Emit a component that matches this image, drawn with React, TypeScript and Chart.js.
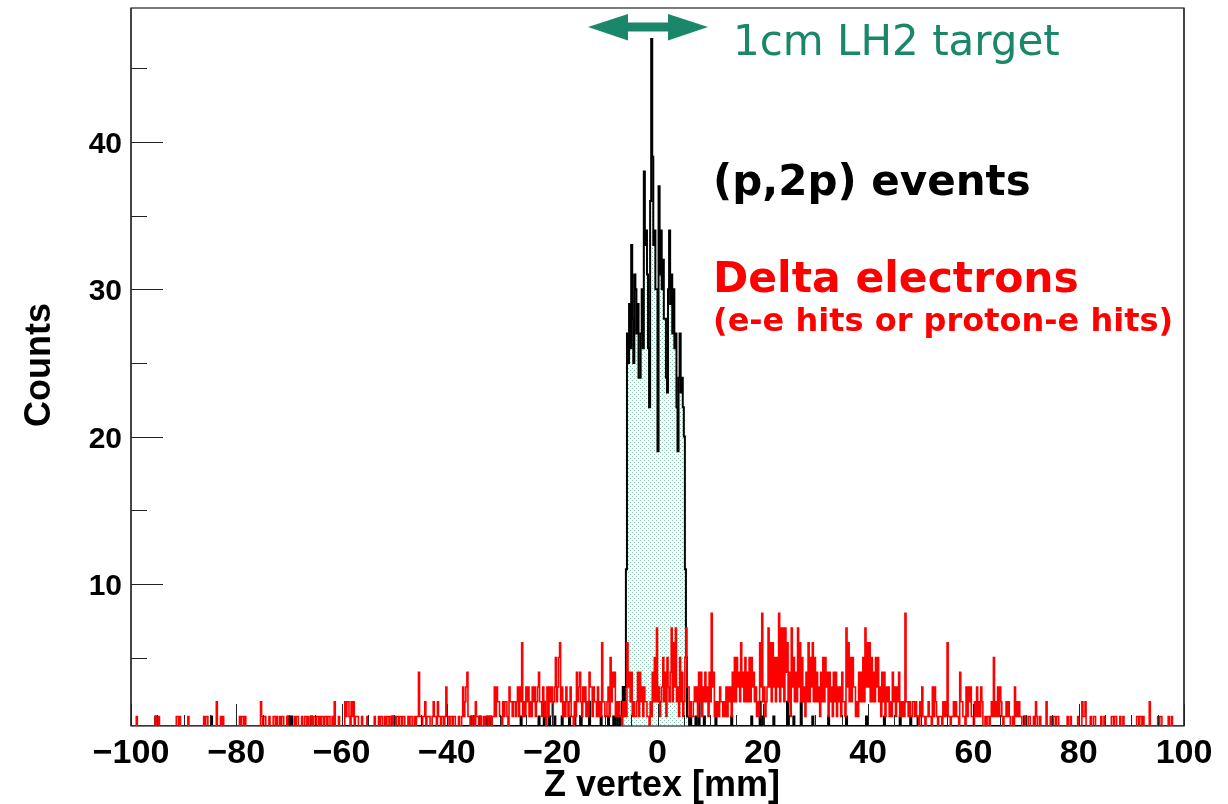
import { useEffect, useRef } from "react";
import { Chart, registerables } from "chart.js";

Chart.register(...registerables);

// ---- axis ranges and binning ----
const X_MIN = -100;
const X_MAX = 100;
const BIN_WIDTH = 0.2; // mm
const Y_MIN = 0.35;
const Y_MAX = 49.1;

const xTickLabels = [-100, -80, -60, -40, -20, 0, 20, 40, 60, 80, 100];
const yTickLabels = [10, 20, 30, 40];

// ---- delta-electron vertices: counts per 0.2 mm bin, one block per 20 mm ----
const deltaM100toM80 = [
  0,0,0,0,0,0,1,0,0,0, 0,0,0,0,0,0,0,0,0,0, 0,0,0,0,1,0,0,1,0,0, 0,0,0,0,0,0,0,0,0,0,
  0,0,0,0,1,1,0,1,0,0, 0,0,0,0,0,1,0,0,0,0, 0,0,0,0,0,0,0,0,0,0, 1,0,1,1,0,0,0,0,0,0,
  0,0,2,0,0,0,1,0,1,0, 0,0,0,0,0,0,0,0,0,0,
];
const deltaM80toM60 = [
  0,0,0,0,1,0,1,1,0,1, 0,0,0,0,0,0,0,0,0,0, 0,0,0,0,2,1,0,1,1,0, 0,0,1,0,0,0,1,1,0,1,
  0,0,1,0,1,1,0,0,0,1, 0,0,0,0,0,0,1,0,1,1, 0,0,0,1,0,0,1,1,0,1, 0,0,1,0,1,1,0,1,1,0,
  1,0,1,1,0,1,1,0,1,1, 0,0,1,0,2,0,0,0,1,0,
];
const deltaM60toM40 = [
  0,0,0,0,2,1,2,2,1,0, 2,1,2,0,1,1,1,0,0,0, 1,0,0,0,0,1,0,0,0,0, 0,0,1,0,0,0,1,0,1,1,
  0,0,1,0,1,1,0,1,1,0, 1,1,0,1,1,0,1,1,0,1, 1,0,0,0,1,0,1,1,0,0, 1,0,1,1,4,1,1,0,1,1,
  2,0,1,1,1,0,0,1,2,1, 1,0,2,1,1,0,1,1,0,1,
];
const deltaM40toM20 = [
  3,1,1,0,1,1,0,1,1,0, 0,0,1,0,0,1,3,1,2,3, 4,1,1,0,0,1,1,0,2,1, 1,0,0,1,0,0,1,0,1,1,
  0,1,1,0,1,1,3,1,3,2, 2,1,1,0,2,1,2,2,1,0, 3,2,2,1,2,2,1,2,3,1, 3,2,6,1,2,1,3,2,3,1,
  2,1,3,2,3,1,2,3,4,2, 2,1,3,2,1,0,3,1,3,2,
];
const deltaM20to0 = [
  3,1,2,3,5,2,3,5,6,2, 3,1,2,1,3,2,1,2,3,1, 1,0,2,1,4,2,3,4,2,1, 3,2,3,1,2,1,4,3,3,1,
  3,2,2,1,3,1,2,1,6,2, 2,1,1,2,3,1,5,2,4,3, 4,1,2,1,2,1,1,0,2,1, 2,1,6,3,4,2,4,1,2,1,
  1,2,4,1,4,2,3,1,3,2, 2,1,1,0,2,1,4,2,5,2,
];
const delta0to20 = [
  7,2,3,1,2,3,5,2,4,1, 5,3,2,4,7,2,6,3,7,2, 3,1,5,2,4,1,2,5,7,3, 3,1,2,1,1,2,3,2,3,1,
  4,2,4,1,3,2,4,2,3,1, 4,2,8,3,4,1,2,1,2,1, 3,2,2,1,2,1,3,1,3,2, 3,1,4,2,5,2,5,3,4,2,
  6,3,4,2,5,2,4,2,5,2, 5,3,4,2,3,1,2,1,6,3,
];
const delta20to40 = [
  8,2,3,1,2,3,7,3,6,2, 6,3,5,2,5,3,8,2,7,3, 7,2,7,4,6,2,4,1,7,3, 5,2,4,2,7,3,6,2,5,2,
  3,1,4,2,6,2,5,3,6,2, 5,2,4,2,3,1,4,2,5,2, 5,3,4,1,4,2,3,1,4,2, 4,1,3,2,3,1,4,2,2,1,
  7,3,6,2,5,2,5,3,3,1, 2,1,4,2,4,2,5,2,7,3,
];
const delta40to60 = [
  6,3,6,2,5,2,4,2,5,3, 5,2,3,1,4,2,4,1,3,2, 3,1,2,1,4,2,3,1,3,2, 4,1,2,1,2,1,8,2,2,1,
  2,1,1,2,2,1,2,1,1,0, 2,1,3,1,1,0,1,1,2,1, 1,0,3,1,3,2,1,0,1,1, 1,0,2,1,2,1,6,1,1,0,
  1,1,2,1,2,1,1,0,4,2, 2,1,1,0,3,1,3,2,3,1,
];
const delta60to80 = [
  1,0,2,1,3,1,2,1,3,2, 0,0,1,0,1,1,0,1,2,1, 5,1,2,1,3,1,3,2,1,0, 1,1,2,1,2,1,0,0,1,0,
  3,1,2,1,2,1,1,0,0,0, 1,0,0,1,1,0,0,0,1,0, 2,1,0,0,1,0,0,0,0,0, 2,0,0,0,1,0,0,1,1,0,
  1,1,0,0,0,0,0,0,0,0, 1,0,0,1,0,0,0,0,0,0,
];
const delta80to100 = [
  1,0,0,0,2,1,1,2,0,0, 0,0,1,0,0,1,1,0,0,0, 0,0,1,0,0,1,0,0,0,0, 0,0,1,1,0,1,1,0,0,0,
  1,0,0,1,0,0,0,0,0,0, 0,0,0,0,0,0,1,1,0,1, 1,0,1,0,0,0,0,0,2,0, 0,0,0,0,0,0,1,0,1,1,
  0,0,0,0,0,0,1,0,0,1, 0,0,0,0,0,0,0,0,0,0,
];

// ---- (p,2p) vertices: target peak (consecutive bins) plus isolated side counts ----
const p2pPeakFirstBin = 458;
const p2pPeakCounts = [
  0,1,0,1,1,0,0,1,0,2,3,2,3,11,
  27,25,29,26,33,28,25,31,30,27,29,24,24,27,30,26,38,33,34,31,26,22,36,47,39,33,
  34,30,30,19,37,31,34,30,32,28,28,24,23,30,34,29,31,27,30,26,27,22,19,24,27,23,24,22,20,
  11,5,1,1,0,1,
];
const p2pSideBins = [24,77,150,153,172,249,324,327,332,339,342,371,388,393,398,403,410,417,422,428,436,447,454,537,540,545,556,571,590,598,601,611,624,630,637,648,663,680,699,716,731,741,748,849];
const p2pSideCounts = [1,1,1,1,1,1,1,1,1,1,1,1,1,2,1,1,1,1,1,1,2,1,1,1,2,1,1,1,1,2,1,1,2,1,2,1,1,1,1,1,1,1,1,1];

const deltaCounts = [
  ...deltaM100toM80, ...deltaM80toM60, ...deltaM60toM40, ...deltaM40toM20, ...deltaM20to0,
  ...delta0to20, ...delta20to40, ...delta40to60, ...delta60to80, ...delta80to100,
];

const N_BINS = Math.round((X_MAX - X_MIN) / BIN_WIDTH);
const p2pCounts: number[] = new Array(N_BINS).fill(0);
p2pSideBins.forEach((b, k) => { p2pCounts[b] = p2pSideCounts[k]; });
p2pPeakCounts.forEach((c, k) => { p2pCounts[p2pPeakFirstBin + k] = c; });

// Histogram outline as step points on bin edges; empty bins sit on the frame floor.
function toSteps(counts: number[]) {
  const pts = counts.map((c, i) => ({ x: X_MIN + i * BIN_WIDTH, y: Math.max(c, Y_MIN) }));
  pts.push({ x: X_MAX, y: Math.max(counts[counts.length - 1], Y_MIN) });
  return pts;
}

const GREEN = "#1b876a";
const RED = "#ff0000";
const AXIS_FONT = '"Liberation Sans", Arial, Helvetica, sans-serif';
const NOTE_FONT = '"DejaVu Sans", sans-serif';

function makeDotPattern(): CanvasPattern | string {
  const c = document.createElement("canvas");
  c.width = 4;
  c.height = 4;
  const g = c.getContext("2d");
  if (!g) return "#e8f5f0";
  g.fillStyle = "rgba(95,185,150,0.75)";
  g.fillRect(0, 0, 1, 1);
  g.fillRect(2, 2, 1, 1);
  return g.createPattern(c, "repeat") || "#e8f5f0";
}

const fmt = (v: number) => (v < 0 ? "\u2212" + Math.abs(v) : String(v));

const framePlugin = {
  id: "frameAndNotes",
  beforeDraw(chart: any) {
    const { ctx, width, height } = chart;
    ctx.save();
    ctx.fillStyle = "#ffffff";
    ctx.fillRect(0, 0, width, height);
    ctx.restore();
  },
  beforeDatasetsDraw(chart: any) {
    const { ctx, chartArea: a } = chart;
    ctx.save();
    ctx.strokeStyle = "#222";
    ctx.lineWidth = 1.2;
    ctx.strokeRect(a.left, a.top, a.right - a.left, a.bottom - a.top);
    ctx.restore();
  },
  afterDatasetsDraw(chart: any) {
    const { ctx, chartArea: a, scales } = chart;
    const xs = scales.x;
    const ys = scales.y;
    ctx.save();

    // left and right frame edges stay on top of the histograms
    ctx.strokeStyle = "#222";
    ctx.lineWidth = 1.2;
    ctx.beginPath();
    ctx.moveTo(a.left, a.top);
    ctx.lineTo(a.left, a.bottom);
    ctx.moveTo(a.right, a.top);
    ctx.lineTo(a.right, a.bottom);
    ctx.stroke();

    // ticks, drawn inside the frame
    ctx.lineWidth = 1;
    ctx.beginPath();
    for (let v = 5; v < Y_MAX; v += 5) {
      const py = Math.round(ys.getPixelForValue(v)) + 0.5;
      const len = v % 10 === 0 ? 32 : 16;
      ctx.moveTo(a.left, py);
      ctx.lineTo(a.left + len, py);
    }
    for (let v = X_MIN; v <= X_MAX; v += 5) {
      const px = Math.round(xs.getPixelForValue(v)) + 0.5;
      const len = v % 20 === 0 ? 22 : 11;
      ctx.moveTo(px, a.bottom);
      ctx.lineTo(px, a.bottom - len);
    }
    ctx.stroke();

    // tick labels
    ctx.fillStyle = "#000";
    ctx.font = `bold 30px ${AXIS_FONT}`;
    ctx.textAlign = "right";
    ctx.textBaseline = "alphabetic";
    yTickLabels.forEach((v) => {
      ctx.fillText(fmt(v), a.left - 9, ys.getPixelForValue(v) + 11);
    });
    ctx.font = `bold 34px ${AXIS_FONT}`;
    ctx.textAlign = "center";
    xTickLabels.forEach((v) => {
      ctx.fillText(fmt(v), xs.getPixelForValue(v), a.bottom + 37);
    });

    // axis titles
    ctx.font = `bold 36px ${AXIS_FONT}`;
    ctx.fillText("Z vertex [mm]", 662, 796);
    ctx.save();
    ctx.translate(50, 365);
    ctx.rotate(-Math.PI / 2);
    ctx.fillText("Counts", 0, 0);
    ctx.restore();

    // target-length marker
    ctx.fillStyle = GREEN;
    ctx.beginPath();
    ctx.moveTo(588, 27);
    ctx.lineTo(628, 14);
    ctx.lineTo(628, 22.5);
    ctx.lineTo(668, 22.5);
    ctx.lineTo(668, 14);
    ctx.lineTo(708, 27);
    ctx.lineTo(668, 40.5);
    ctx.lineTo(668, 31.5);
    ctx.lineTo(628, 31.5);
    ctx.lineTo(628, 40.5);
    ctx.closePath();
    ctx.fill();

    ctx.textAlign = "left";
    ctx.font = `42px ${NOTE_FONT}`;
    ctx.fillText("1cm LH2 target", 733, 55);

    ctx.fillStyle = "#000";
    ctx.font = `bold 42px ${NOTE_FONT}`;
    ctx.fillText("(p,2p) events", 713, 195);

    ctx.fillStyle = RED;
    ctx.font = `bold 42.5px ${NOTE_FONT}`;
    ctx.fillText("Delta electrons", 713, 292);
    ctx.font = `bold 32px ${NOTE_FONT}`;
    ctx.fillText("(e-e hits or proton-e hits)", 713, 331);

    ctx.restore();
  },
};

export default function App() {
  const canvasRef = useRef<HTMLCanvasElement | null>(null);

  useEffect(() => {
    const canvas = canvasRef.current;
    if (!canvas) return;
    const chart = new Chart(canvas, {
      type: "line",
      data: {
        datasets: [
          {
            label: "Delta electrons",
            data: toSteps(deltaCounts),
            stepped: "after",
            borderColor: RED,
            borderWidth: 1.6,
            pointRadius: 0,
            fill: false,
          },
          {
            label: "(p,2p) events",
            data: toSteps(p2pCounts),
            stepped: "after",
            borderColor: "#000",
            borderWidth: 2,
            pointRadius: 0,
            fill: "origin",
            backgroundColor: makeDotPattern() as any,
          },
        ],
      },
      options: {
        responsive: false,
        animation: false,
        layout: { padding: { left: 0, top: 8, right: 44, bottom: 0 } },
        plugins: { legend: { display: false }, tooltip: { enabled: false } },
        scales: {
          x: {
            type: "linear",
            min: X_MIN,
            max: X_MAX,
            grid: { display: false },
            border: { display: false },
            ticks: { display: false },
            afterFit: (s: any) => { s.height = 78; },
          },
          y: {
            type: "linear",
            min: Y_MIN,
            max: Y_MAX,
            grid: { display: false },
            border: { display: false },
            ticks: { display: false },
            afterFit: (s: any) => { s.width = 131; },
          },
        },
      },
      plugins: [framePlugin],
    });
    return () => chart.destroy();
  }, []);

  return (
    <div style={{ position: "fixed", left: 0, top: 0, width: 1228, height: 804, background: "#fff" }}>
      <canvas ref={canvasRef} width={1228} height={804} />
    </div>
  );
}
